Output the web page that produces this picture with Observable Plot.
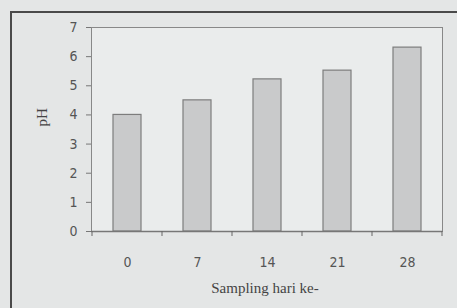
<!DOCTYPE html>
<html>
<head>
<meta charset="utf-8">
<script src="https://cdn.jsdelivr.net/npm/d3@7"></script>
<script src="https://cdn.jsdelivr.net/npm/@observablehq/plot@0.6"></script>
<style>
  html, body { margin: 0; padding: 0; background: #e4e6e6; width: 457px; height: 308px; overflow: hidden; }
  #frame { position: absolute; left: 10px; top: 11px; width: 460px; height: 310px; border-left: 2px solid #4a4a4a; border-top: 2px solid #4a4a4a; }
  #chart { position: absolute; left: 0; top: 0; }
</style>
</head>
<body>
<div id="frame"></div>
<div id="chart"></div>
<script>
const days = ["0", "7", "14", "21", "28"];
const pH = [4.0, 4.5, 5.22, 5.52, 6.31];
const yTicks = [0, 1, 2, 3, 4, 5, 6, 7];
const xTitle = "Sampling hari ke-";
const yTitle = "pH";

const data = days.map((d, i) => ({day: d, pH: pH[i]}));

// Tick marks on category boundaries, derived from the band scale
function boundaryTicks(index, scales, values, dim) {
  const x = scales.x;
  const step = x.step();
  const bw = x.bandwidth();
  const y0 = dim.height - dim.marginBottom;
  const g = d3.create("svg:g");
  const starts = days.map(d => x(d) + bw / 2 - step / 2);
  starts.push(starts[starts.length - 1] + step);
  for (const s of starts) {
    g.append("line").attr("x1", s).attr("x2", s).attr("y1", y0).attr("y2", y0 + 5)
      .attr("stroke", "#666").attr("stroke-width", 1);
  }
  return g.node();
}

const chart = Plot.plot({
  width: 457,
  height: 308,
  marginLeft: 91,
  marginRight: 15,
  marginTop: 27,
  marginBottom: 77,
  style: {background: "transparent", fontFamily: "'Liberation Sans Narrow', 'DejaVu Sans Condensed', sans-serif", fontSize: "14px", color: "#555"},
  x: {domain: days, paddingInner: 0.6, paddingOuter: 0.3, label: null},
  y: {domain: [0, 7], ticks: yTicks, label: null},
  marks: [
    Plot.frame({fill: "#eaecec", stroke: "#888", strokeWidth: 1}),
    Plot.barY(data, {x: "day", y: "pH", fill: "#c9cacb", stroke: "#7d7d7d", strokeWidth: 1.2}),
    Plot.axisY({ticks: yTicks, tickFormat: d3.format("d"), tickSize: 5, tickPadding: 9, stroke: "#777", fill: "#555", fontSize: 14}),
    Plot.axisX({tickSize: 0, tickPadding: 26, fill: "#555", fontSize: 14}),
    Plot.ruleY([0], {stroke: "#777", strokeWidth: 1.5}),
    boundaryTicks,
    Plot.text([xTitle], {frameAnchor: "bottom", dy: 61, dx: -2, fontFamily: "'Liberation Serif', serif", fontSize: 15, fill: "#444"}),
    Plot.text([yTitle], {frameAnchor: "left", dx: -49, dy: -3, rotate: -90, fontFamily: "'Liberation Serif', serif", fontSize: 15, fill: "#444"})
  ]
});
document.getElementById("chart").appendChild(chart);
</script>
</body>
</html>
